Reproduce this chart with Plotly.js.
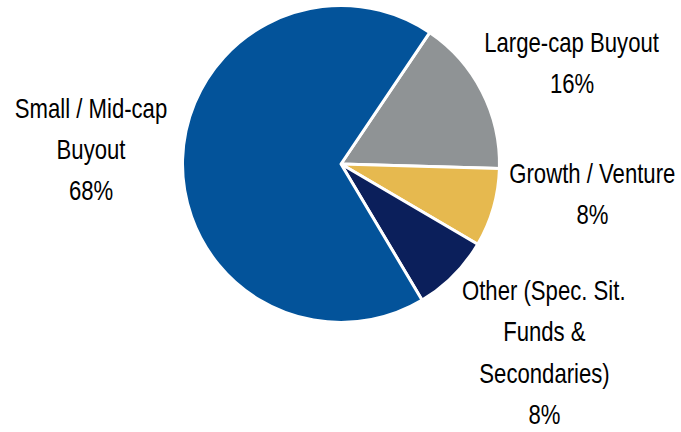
<!DOCTYPE html>
<html>
<head>
<meta charset="utf-8">
<script src="https://cdn.plot.ly/plotly-3.0.1.min.js"></script>
<style>
html,body{margin:0;padding:0;background:#fff;}
#chart{width:681px;height:432px;}
#chart .annotation-text{transform-box:fill-box;transform-origin:center;transform:scaleX(0.82);}
</style>
</head>
<body>
<div id="chart"></div>
<script>
// ---- data ----
var categories = ["Large-cap Buyout", "Growth / Venture", "Other (Spec. Sit. Funds & Secondaries)", "Small / Mid-cap Buyout"];
var shares = [16, 8, 8, 68];
var labelLines = [
  ["Large-cap Buyout"],
  ["Growth / Venture"],
  ["Other (Spec. Sit.", "Funds &", "Secondaries)"],
  ["Small / Mid-cap", "Buyout"]
];

// ---- styles / placement ----
var colors = ["#8F9395", "#E6B94F", "#0B1F5B", "#03539A"];
var labelAnchors = [
  {x: 572, y: 52},
  {x: 592, y: 183},
  {x: 544, y: 300},
  {x: 91, y: 118}
];
var lineStep = 41.5;
var fontFamily = "'Liberation Sans', Arial, sans-serif";
var fontSize = 27;
var W = 681, H = 432;

var annotations = [];
for (var i = 0; i < categories.length; i++) {
  var lines = labelLines[i].concat([shares[i] + "%"]);
  for (var j = 0; j < lines.length; j++) {
    var baseY = labelAnchors[i].y + j * lineStep;
    annotations.push({
      xref: "paper", yref: "paper",
      x: labelAnchors[i].x / W,
      y: 1 - (baseY - 9.5) / H,
      xanchor: "center", yanchor: "middle",
      text: lines[j], showarrow: false,
      font: {family: fontFamily, size: fontSize, color: "#000000"}
    });
  }
}

var cx = 341, cy = 164, r = 158.5;
var trace = {
  type: "pie",
  labels: categories,
  values: shares,
  sort: false,
  direction: "clockwise",
  rotation: 34,
  textinfo: "none",
  hoverinfo: "none",
  marker: {colors: colors, line: {color: "#FFFFFF", width: 3}},
  domain: {x: [(cx - r) / W, (cx + r) / W], y: [1 - (cy + r) / H, 1 - (cy - r) / H]},
  showlegend: false
};

var layout = {
  width: W, height: H,
  margin: {l: 0, r: 0, t: 0, b: 0},
  paper_bgcolor: "#FFFFFF",
  plot_bgcolor: "#FFFFFF",
  showlegend: false,
  annotations: annotations
};

Plotly.newPlot("chart", [trace], layout, {staticPlot: true, displayModeBar: false});
</script>
</body>
</html>
